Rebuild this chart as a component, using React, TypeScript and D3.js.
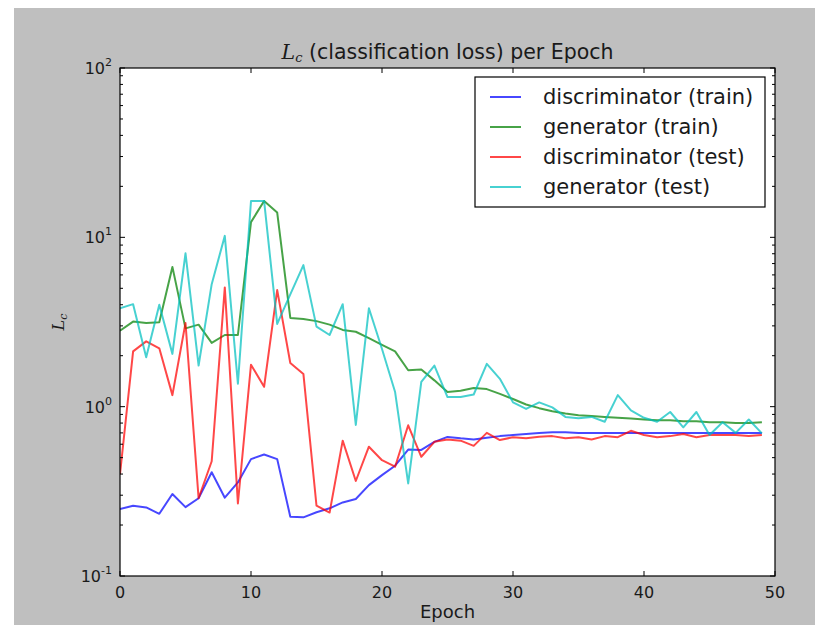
import React from "react";
import * as d3 from "d3";

const epochs = d3.range(0, 50);

const discTrain = [0.249, 0.26, 0.254, 0.233, 0.305, 0.255, 0.288, 0.41, 0.29, 0.357,
  0.49, 0.522, 0.49, 0.224, 0.222, 0.238, 0.251, 0.272, 0.285, 0.344,
  0.394, 0.448, 0.558, 0.555, 0.62, 0.663, 0.65, 0.64, 0.655, 0.67,
  0.68, 0.69, 0.70, 0.705, 0.705, 0.70, 0.70, 0.70, 0.70, 0.70,
  0.70, 0.70, 0.70, 0.70, 0.70, 0.70, 0.70, 0.70, 0.70, 0.70];

const genTrain = [2.81, 3.18, 3.12, 3.15, 6.69, 2.9, 3.05, 2.38, 2.65, 2.65,
  12.3, 16.4, 14.0, 3.34, 3.29, 3.2, 3.05, 2.84, 2.77, 2.54,
  2.32, 2.12, 1.64, 1.66, 1.43, 1.22, 1.24, 1.29, 1.27, 1.19,
  1.11, 1.03, 0.98, 0.94, 0.91, 0.89, 0.88, 0.87, 0.86, 0.85,
  0.84, 0.83, 0.83, 0.82, 0.82, 0.81, 0.81, 0.80, 0.80, 0.81];

const discTest = [0.40, 2.12, 2.43, 2.21, 1.17, 3.12, 0.288, 0.476, 5.06, 0.268,
  1.77, 1.31, 4.88, 1.81, 1.56, 0.26, 0.237, 0.63, 0.364, 0.58,
  0.483, 0.442, 0.776, 0.506, 0.62, 0.64, 0.63, 0.587, 0.70, 0.635,
  0.66, 0.65, 0.665, 0.67, 0.65, 0.66, 0.64, 0.67, 0.66, 0.72,
  0.68, 0.66, 0.67, 0.69, 0.66, 0.68, 0.68, 0.68, 0.67, 0.68];

const genTest = [3.81, 4.03, 1.96, 4.0, 2.05, 8.05, 1.75, 5.29, 10.2, 1.365,
  16.4, 16.4, 3.08, 4.6, 6.85, 2.97, 2.65, 4.03, 0.78, 3.81,
  2.19, 1.22, 0.352, 1.4, 1.75, 1.14, 1.14, 1.18, 1.79, 1.46,
  1.06, 0.97, 1.06, 0.99, 0.87, 0.855, 0.87, 0.815, 1.17, 0.95,
  0.86, 0.815, 0.93, 0.755, 0.93, 0.68, 0.81, 0.70, 0.84, 0.695];

const seriesNames = ["discriminator (train)", "generator (train)", "discriminator (test)", "generator (test)"];
const seriesColors = ["#0000ff", "#008000", "#ff0000", "#00bfbf"];
const seriesValues = [discTrain, genTrain, discTest, genTest];

const xTicks = [0, 10, 20, 30, 40, 50];
const yDecades = [-1, 0, 1, 2];

const W = 815, H = 625;
const M = { left: 120, top: 68, right: 775, bottom: 576 };
const FONT = "DejaVu Sans";

export default function App() {
  const x = d3.scaleLinear().domain([0, 50]).range([M.left, M.right]);
  const y = d3.scaleLog().domain([0.1, 100]).range([M.bottom, M.top]);
  const line = d3.line<number>().x((_, i) => x(epochs[i])).y((d) => y(d));

  const minorTicks: number[] = [];
  for (let e = -1; e < 2; e++) {
    for (let k = 2; k <= 9; k++) minorTicks.push(k * Math.pow(10, e));
  }

  const legX = 475, legY = 77, legW = 290, legH = 130;

  return (
    <svg width={W} height={H} style={{ position: "absolute", left: 0, top: 0 }}>
      <rect x={14} y={8} width={W - 14} height={H - 8} fill="#bfbfbf" />
      <rect x={M.left} y={M.top} width={M.right - M.left} height={M.bottom - M.top} fill="#ffffff" />
      <defs>
        <clipPath id="plotclip">
          <rect x={M.left} y={M.top} width={M.right - M.left} height={M.bottom - M.top} />
        </clipPath>
      </defs>
      <g clipPath="url(#plotclip)">
        {seriesValues.map((vals, i) => (
          <path key={i} d={line(vals) || ""} fill="none" stroke={seriesColors[i]}
            strokeOpacity={0.72} strokeWidth={2} strokeLinejoin="round" />
        ))}
      </g>
      {/* x ticks */}
      {xTicks.map((t) => (
        <g key={"x" + t}>
          <line x1={x(t)} x2={x(t)} y1={M.bottom} y2={M.bottom - 5} stroke="#000" />
          <line x1={x(t)} x2={x(t)} y1={M.top} y2={M.top + 5} stroke="#000" />
          <text x={x(t)} y={M.bottom + 22} textAnchor="middle" fontFamily={FONT} fontSize={16} fill="#1a1a1a">{t}</text>
        </g>
      ))}
      {/* y ticks */}
      {yDecades.map((e) => {
        const v = Math.pow(10, e);
        return (
          <g key={"y" + e}>
            <line x1={M.left} x2={M.left + 5} y1={y(v)} y2={y(v)} stroke="#000" />
            <line x1={M.right} x2={M.right - 5} y1={y(v)} y2={y(v)} stroke="#000" />
            <text x={M.left - 8} y={y(v) + 6} textAnchor="end" fontFamily={FONT} fontSize={16} fill="#1a1a1a">
              10<tspan dy={-8} fontSize={11}>{e}</tspan>
            </text>
          </g>
        );
      })}
      {minorTicks.map((v, i) => (
        <g key={"m" + i}>
          <line x1={M.left} x2={M.left + 3} y1={y(v)} y2={y(v)} stroke="#000" />
          <line x1={M.right} x2={M.right - 3} y1={y(v)} y2={y(v)} stroke="#000" />
        </g>
      ))}
      <rect x={M.left} y={M.top} width={M.right - M.left} height={M.bottom - M.top} fill="none" stroke="#000" strokeWidth={1.2} />
      {/* title */}
      <text x={(M.left + M.right) / 2} y={59} textAnchor="middle" fontFamily={FONT} fontSize={20.5} fill="#1a1a1a">
        <tspan fontFamily="DejaVu Serif" fontStyle="italic">L</tspan>
        <tspan fontFamily="DejaVu Serif" fontStyle="italic" fontSize={13} dy={3}>c</tspan>
        <tspan dy={-3}> (classification loss) per Epoch</tspan>
      </text>
      {/* x label */}
      <text x={(M.left + M.right) / 2} y={618} textAnchor="middle" fontFamily={FONT} fontSize={18} fill="#1a1a1a">Epoch</text>
      {/* y label */}
      <g transform={`translate(64, 322) rotate(-90)`}>
        <text textAnchor="middle" fontFamily="DejaVu Serif" fontStyle="italic" fontSize={16} fill="#1a1a1a">
          L<tspan fontSize={11} dy={3}>c</tspan>
        </text>
      </g>
      {/* legend */}
      <rect x={legX} y={legY} width={legW} height={legH} fill="#ffffff" stroke="#000" strokeWidth={1.2} />
      {seriesNames.map((n, i) => {
        const ly = legY + 20 + i * 30;
        return (
          <g key={n}>
            <line x1={legX + 15} x2={legX + 46} y1={ly} y2={ly} stroke={seriesColors[i]} strokeOpacity={0.72} strokeWidth={2} />
            <text x={legX + 68} y={ly + 7} fontFamily={FONT} fontSize={21} fill="#1a1a1a">{n}</text>
          </g>
        );
      })}
    </svg>
  );
}
